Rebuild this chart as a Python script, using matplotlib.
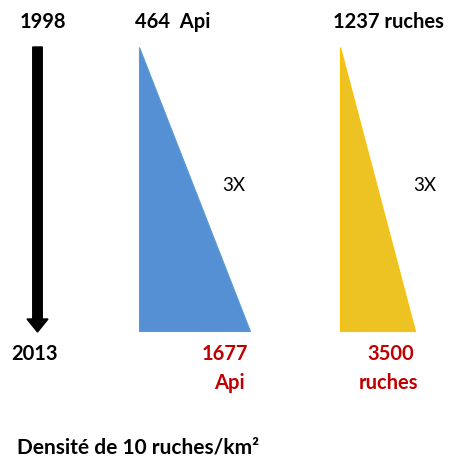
import matplotlib.pyplot as plt
from matplotlib.patches import Polygon, FancyArrow

years = ["1998", "2013"]
series_names = ["Api", "ruches"]
start_values = [464, 1237]
end_values = [1677, 3500]
factors = ["3X", "3X"]
note = "Densité de 10 ruches/km²"

colors = ["#5590d5", "#ecc322"]
edge_colors = ["#5b9bd5", "#ffc000"]

plt.rcParams['font.family'] = ['Lato', 'DejaVu Sans']

fig = plt.figure(figsize=(4.5, 4.65), dpi=100)
ax = fig.add_axes([0, 0, 1, 1])
ax.set_xlim(0, 450)
ax.set_ylim(465, 0)
ax.axis('off')

top, bottom = 47, 331
# triangles: (left x, base width)
tri_layout = [(139, 111), (340, 75)]
for (x0, w), c, ec in zip(tri_layout, colors, edge_colors):
    ax.add_patch(Polygon([(x0, top), (x0, bottom), (x0 + w, bottom)], closed=True,
                         facecolor=c, edgecolor=ec, linewidth=0.8))

# time arrow
ax.add_patch(FancyArrow(37.5, 47, 0, 285, width=9.5, head_width=21, head_length=13,
                        length_includes_head=True, color='black'))

fs = 14.5
ax.text(43, 22, years[0], ha='center', va='center', fontsize=fs, fontweight='bold')
ax.text(35, 354, years[1], ha='center', va='center', fontsize=fs, fontweight='bold')

ax.text(135, 22, f"{start_values[0]}  {series_names[0]}", ha='left', va='center', fontsize=fs, fontweight='bold')
ax.text(333, 22, f"{start_values[1]} {series_names[1]}", ha='left', va='center', fontsize=fs, fontweight='bold')

red = '#c00000'
ax.text(225, 354, f"{end_values[0]}", ha='center', va='center', fontsize=fs, fontweight='bold', color=red)
ax.text(229, 383, series_names[0], ha='center', va='center', fontsize=fs, fontweight='bold', color=red)
ax.text(391, 354, f"{end_values[1]}", ha='center', va='center', fontsize=fs, fontweight='bold', color=red)
ax.text(388, 383, series_names[1], ha='center', va='center', fontsize=fs, fontweight='bold', color=red)

ax.text(234, 185, factors[0], ha='center', va='center', fontsize=13.5)
ax.text(425, 185, factors[1], ha='center', va='center', fontsize=13.5)

ax.text(17, 447, note, ha='left', va='center', fontsize=15, fontweight='bold')

fig.savefig('out.png', dpi=100)
